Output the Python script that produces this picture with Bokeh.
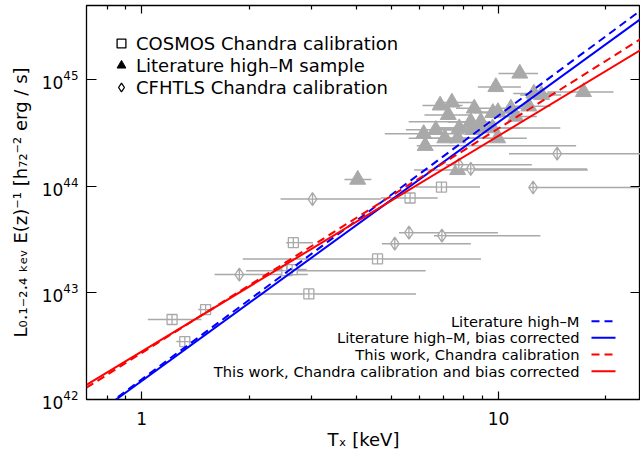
from bokeh.plotting import figure
from bokeh.models import (ColumnDataSource, LogAxis, FixedTicker, Legend, LegendItem, Label,
                          Arrow, NumeralTickFormatter, CustomJSTickFormatter, Range1d)
from bokeh.embed import file_html
from bokeh.resources import INLINE

FONT = "DejaVu Sans"
GRAY = "#a9a9a9"

# ---------------- data ----------------
# COSMOS Chandra calibration (open squares)
cosmos_T = [1.216, 1.32, 1.51, 2.66, 2.55, 2.64, 4.58, 2.94, 5.65, 6.92]
cosmos_L = [5.64e42, 3.5e42, 6.99e42, 2.97e43, 1.62e43, 1.66e43, 2.09e43, 9.8e42, 7.79e43, 9.87e43]
cosmos_T_lo = [1.04, 1.25, 1.44, 2.54, 1.96, 2.40, 1.92, 2.09, 4.68, 5.87]
cosmos_T_hi = [1.47, 1.37, 1.59, 3.02, 6.25, 2.90, 8.93, 5.87, 6.75, 8.87]

# CFHTLS Chandra calibration (open diamonds)
cfhtls_T = [3.01, 1.877, 5.61, 6.94, 5.12, 8.36, 12.5, 14.6, 7.74]
cfhtls_L = [7.62e43, 1.49e43, 3.68e43, 3.45e43, 2.90e43, 1.46e44, 9.78e43, 2.03e44, 1.60e44]
cfhtls_T_lo = [2.45, 1.60, 5.26, 6.59, 4.71, 7.68, 12.2, 10.7, 7.12]
cfhtls_T_hi = [4.68, 2.92, 9.96, 13.1, 8.36, 17.7, 30.0, 30.0, 12.4]

# Literature high-M sample (filled triangles)
lit_T = [11.47, 9.83, 17.3, 6.86, 7.40, 7.23, 8.55, 8.36, 9.64, 9.96, 10.83, 12.16, 12.56, 13.2,
         6.17, 6.67, 7.07, 6.23, 7.76, 7.68, 8.92, 9.62, 9.94, 11.17, 7.68, 4.03, 8.92, 8.45]
lit_L = [1.15e45, 8.6e44, 7.72e44, 5.77e44, 6.15e44, 4.70e44, 5.41e44, 4.04e44, 4.91e44, 5.01e44,
         5.41e44, 5.65e44, 7.47e44, 7.23e44, 3.12e44, 3.40e44, 2.84e44, 2.41e44, 3.53e44, 2.84e44,
         3.53e44, 3.53e44, 2.84e44, 4.53e44, 1.43e44, 1.16e44, 4.06e44, 3.40e44]
lit_T_lo = [10.0, 8.75, 13.7, 6.12, 6.67, 6.2, 7.6, 7.2, 8.5, 8.7, 9.5, 10.5, 11.0, 11.5,
            4.8, 5.5, 5.6, 5.9, 6.7, 6.0, 6.5, 8.3, 8.0, 9.8, 5.8, 3.7, 5.6, 7.0]
lit_T_hi = [12.9, 11.55, 21.0, 7.93, 8.63, 8.4, 9.6, 9.8, 11.0, 11.5, 12.3, 14.0, 14.5, 15.0,
            8.0, 8.1, 9.0, 16.5, 9.0, 9.6, 14.9, 11.5, 12.0, 12.8, 17.8, 4.4, 9.1, 10.0]

# Fitted L-T relations (end points of the straight power laws)
fit_T = [0.7, 25.0]
fit_lit_L = [6.4e41, 4.48e45]        # Literature high-M
fit_lit_bc_L = [6.28e41, 3.73e45]    # Literature high-M, bias corrected
fit_this_L = [1.29e42, 2.42e45]      # This work, Chandra calibration
fit_this_bc_L = [1.37e42, 1.91e45]   # This work, Chandra calibration and bias corrected

fit_names = ["Literature high\u2013M",
             "Literature high\u2013M, bias corrected",
             "This work, Chandra calibration",
             "This work, Chandra calibration and bias corrected"]
fit_colors = ["#0000ff", "#0000ff", "#ff0000", "#ff0000"]
fit_dashes = ["8 5", "solid", "8 5", "solid"]
fit_values = [fit_lit_L, fit_lit_bc_L, fit_this_L, fit_this_bc_L]

legend_names = ["COSMOS Chandra calibration", "Literature high\u2013M sample",
                "CFHTLS Chandra calibration"]

x_major = [1, 10]
x_minor = [0.8, 0.9, 2, 3, 4, 5, 6, 7, 8, 9, 20]
y_major = [1e42, 1e43, 1e44, 1e45]

# ---------------- figure ----------------
p = figure(x_axis_type="log", y_axis_type="log",
           x_range=Range1d(0.7, 25.0), y_range=Range1d(1e42, 5e45),
           frame_width=554, frame_height=394,
           min_border_left=86, min_border_right=0, min_border_top=5, min_border_bottom=55,
           output_backend="svg", toolbar_location=None)
p.xgrid.visible = False
p.ygrid.visible = False
p.outline_line_color = "black"
p.outline_line_width = 1.3

# data
src_c = ColumnDataSource(dict(T=cosmos_T, L=cosmos_L, lo=cosmos_T_lo, hi=cosmos_T_hi))
src_f = ColumnDataSource(dict(T=cfhtls_T, L=cfhtls_L, lo=cfhtls_T_lo, hi=cfhtls_T_hi))
src_l = ColumnDataSource(dict(T=lit_T, L=lit_L, lo=lit_T_lo, hi=lit_T_hi))

for src in (src_l, src_f, src_c):
    p.segment(x0="lo", y0="L", x1="hi", y1="L", source=src, line_color=GRAY, line_width=1.5)

p.scatter("T", "L", source=src_l, marker="triangle", size=16, fill_color=GRAY, line_color=GRAY)
p.scatter("T", "L", source=src_f, marker="diamond_cross", size=13, fill_color="white",
          line_color=GRAY, line_width=1.3)
p.scatter("T", "L", source=src_c, marker="square_cross", size=10, fill_color="white",
          line_color=GRAY, line_width=1.3)

for vals, col, dash in zip(fit_values, fit_colors, fit_dashes):
    p.line(fit_T, vals, line_color=col, line_width=2, line_dash=dash)

# top-left legend (black symbols)
r_sq = p.scatter(x=[1.0], y=[1e30], marker="square", size=10, fill_color=None,
                 line_color="black", line_width=1.3)
r_tr = p.scatter(x=[1.0], y=[1e30], marker="triangle", size=10, fill_color="black",
                 line_color="black")
r_di = p.scatter(x=[1.0], y=[1e30], marker="diamond", size=10, fill_color=None,
                 line_color="black", line_width=1.3)
leg = Legend(items=[LegendItem(label=legend_names[0], renderers=[r_sq]),
                    LegendItem(label=legend_names[1], renderers=[r_tr]),
                    LegendItem(label=legend_names[2], renderers=[r_di])],
             location=(23, 301), border_line_color=None, background_fill_alpha=0,
             label_text_font=FONT, label_text_font_size="18px", label_text_color="black",
             glyph_width=24, glyph_height=22, label_standoff=3, spacing=0,
             padding=0, margin=0)
p.add_layout(leg)

# bottom-right legend (text then line sample)
row_y = [78.3, 61.7, 45.0, 28.3]
for name, col, dash, yy in zip(fit_names, fit_colors, fit_dashes, row_y):
    p.add_layout(Label(x=493, y=yy, x_units="screen", y_units="screen", text=name,
                       text_align="right", text_baseline="middle",
                       text_font=FONT, text_font_size="14.7px", text_color="black"))
    p.add_layout(Arrow(start=None, end=None, x_start=505, y_start=yy, x_end=529, y_end=yy,
                       start_units="screen", end_units="screen",
                       line_color=col, line_width=2, line_dash=dash))

# axes
xa = p.xaxis[0]
xa.ticker = FixedTicker(ticks=x_major, minor_ticks=x_minor)
xa.formatter = NumeralTickFormatter(format="0")
xa.axis_label = "T\u2093 [keV]"
ya = p.yaxis[0]
ya.ticker = FixedTicker(ticks=y_major, minor_ticks=[])
ya.axis_label = "L\u2080.\u2081\u208b\u2082.\u2084 \u2096\u2091\u1d65 E(z)\u207b\u00b9 [h\u2087\u2082\u207b\u00b2 erg / s]"
for ax in (xa, ya):
    ax.axis_label_text_font = FONT
    ax.axis_label_text_font_size = "18px"
    ax.axis_label_text_font_style = "normal"
    ax.axis_label_text_color = "black"
    ax.major_label_text_font = FONT
    ax.major_label_text_font_size = "17px"
    ax.major_label_text_color = "black"
    ax.axis_line_color = "black"
    ax.major_tick_out = 0
    ax.minor_tick_out = 0
    ax.major_tick_line_color = "black"
    ax.minor_tick_line_color = "black"
    ax.major_tick_line_width = 1.2
    ax.minor_tick_line_width = 1.2
xa.major_tick_in = 8
xa.minor_tick_in = 4
ya.major_tick_in = 10
xa.major_label_standoff = 12
xa.axis_label_standoff = 1
ya.major_label_standoff = 8
ya.axis_label_standoff = 8

top = LogAxis(ticker=FixedTicker(ticks=x_major, minor_ticks=x_minor))
right = LogAxis(ticker=FixedTicker(ticks=y_major, minor_ticks=[]))
for ax in (top, right):
    ax.formatter = CustomJSTickFormatter(code="return ''")
    ax.major_label_standoff = 0
    ax.major_tick_out = 0
    ax.minor_tick_out = 0
    ax.axis_line_color = "black"
    ax.major_tick_line_color = "black"
    ax.minor_tick_line_color = "black"
    ax.major_tick_line_width = 1.2
    ax.minor_tick_line_width = 1.2
top.major_tick_in = 8
top.minor_tick_in = 4
right.major_tick_in = 10
p.add_layout(top, "above")
p.add_layout(right, "right")

open("out.html", "w").write(file_html(p, INLINE))
